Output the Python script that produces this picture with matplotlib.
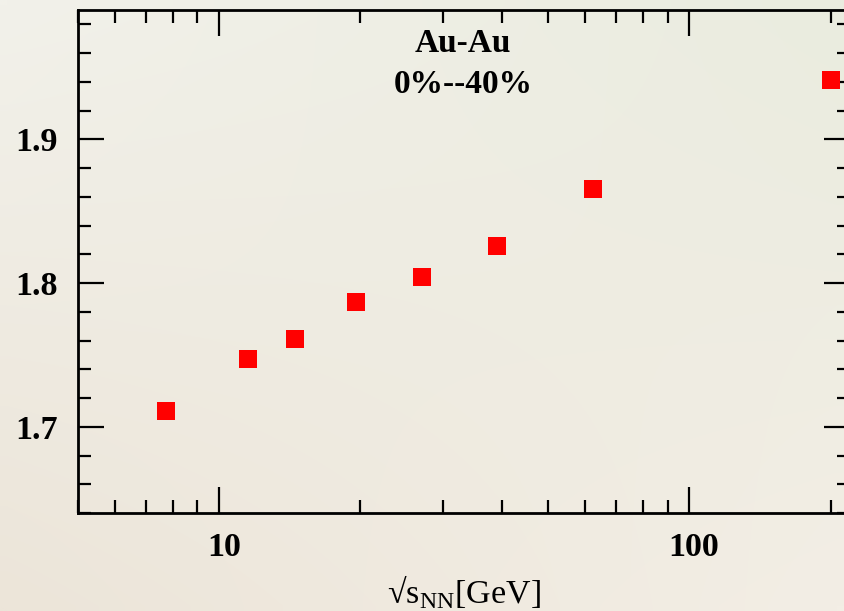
import numpy as np
import matplotlib
matplotlib.use("Agg")
import matplotlib.pyplot as plt
import matplotlib.transforms as mtransforms
from matplotlib.ticker import FixedLocator, NullFormatter, MultipleLocator

# Data
energies = [7.7, 11.5, 14.5, 19.6, 27, 39, 62.4, 200]
values = [1.711, 1.7475, 1.761, 1.787, 1.804, 1.8255, 1.8655, 1.9414]
xticks_major = [10, 100]
xtick_labels = ["10", "100"]
yticks_major = [1.7, 1.8, 1.9]
ytick_labels = ["1.7", "1.8", "1.9"]
title_lines = ["Au-Au", "0%--40%"]
xlabel = "√s$_{\\mathrm{NN}}$[GeV]"

plt.rcParams['mathtext.fontset'] = 'custom'
plt.rcParams['mathtext.rm'] = 'Liberation Serif'

W, H, DPI = 844, 611, 100
fig = plt.figure(figsize=(W / DPI, H / DPI), dpi=DPI)

# background gradient
bg = fig.add_axes([0, 0, 1, 1], zorder=-10)
tl = np.array([242, 241, 234]) / 255
tr = np.array([234, 236, 223]) / 255
bl = np.array([236, 229, 217]) / 255
br = np.array([243, 238, 229]) / 255
u = np.linspace(0, 1, 64)[None, :, None]
v = np.linspace(0, 1, 64)[:, None, None]
img = (1 - v) * ((1 - u) * tl + u * tr) + v * ((1 - u) * bl + u * br)
bg.imshow(img, extent=[0, 1, 0, 1], aspect='auto', interpolation='bilinear')
bg.axis('off')

left, right = 77.5, 850
bottom, top = 513, 10
ax = fig.add_axes([left / W, 1 - bottom / H, (right - left) / W, (bottom - top) / H])
ax.set_facecolor('none')

ax.plot(energies, values, linestyle='none', marker='s', markersize=13,
        color='#ff0000', markeredgewidth=0, clip_on=False)

ax.set_xscale('log')
ax.set_xlim(5, 220)
ax.set_ylim(1.64, 1.99)

ax.xaxis.set_major_locator(FixedLocator(xticks_major))
ax.set_xticklabels(xtick_labels)
minors = [m * d for d in (1, 10, 100) for m in range(2, 10)]
ax.xaxis.set_minor_locator(FixedLocator(minors))
ax.xaxis.set_minor_formatter(NullFormatter())
ax.yaxis.set_major_locator(FixedLocator(yticks_major))
ax.set_yticklabels(ytick_labels)
ax.yaxis.set_minor_locator(MultipleLocator(0.02))

for s in ax.spines.values():
    s.set_linewidth(2.0)
ax.tick_params(which='both', direction='in', top=True, right=True, width=1.6)
ax.tick_params(which='major', length=18.5, pad=14)
ax.tick_params(which='minor', length=9.5)

for lab in ax.get_xticklabels() + ax.get_yticklabels():
    lab.set_fontfamily('Liberation Serif')
    lab.set_fontweight('bold')
    lab.set_fontsize(24.5)

shift = mtransforms.ScaledTranslation(5 / DPI, 0, fig.dpi_scale_trans)
for lab in ax.get_xticklabels():
    lab.set_transform(lab.get_transform() + shift)

ax.set_xlabel(xlabel, fontfamily='Liberation Serif', fontsize=24.5, labelpad=7)

fig.text(463 / W, 1 - 52 / H, title_lines[0], ha='center', va='baseline',
         fontfamily='Liberation Serif', fontweight='bold', fontsize=24)
fig.text(463 / W, 1 - 93 / H, title_lines[1], ha='center', va='baseline',
         fontfamily='Liberation Serif', fontweight='bold', fontsize=24)

fig.savefig('out.png', dpi=DPI)
